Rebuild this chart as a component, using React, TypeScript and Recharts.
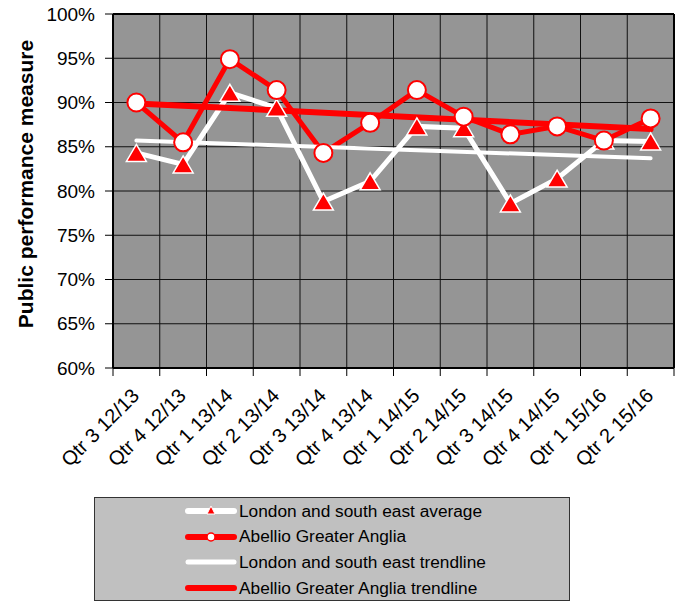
import React from 'react';
import { LineChart, Line, XAxis, YAxis, CartesianGrid, Legend } from 'recharts';

const categories = [
  'Qtr 3 12/13', 'Qtr 4 12/13', 'Qtr 1 13/14', 'Qtr 2 13/14', 'Qtr 3 13/14', 'Qtr 4 13/14',
  'Qtr 1 14/15', 'Qtr 2 14/15', 'Qtr 3 14/15', 'Qtr 4 14/15', 'Qtr 1 15/16', 'Qtr 2 15/16',
];
const londonAverage = [84.3, 83.0, 91.1, 89.4, 78.8, 81.1, 87.3, 87.1, 78.6, 81.4, 85.7, 85.6];
const abellio = [90.0, 85.5, 94.9, 91.4, 84.3, 87.7, 91.4, 88.4, 86.4, 87.3, 85.7, 88.2];
const londonTrend = [85.7, null, null, null, null, null, null, null, null, null, null, 83.7];
const abellioTrend = [89.9, null, null, null, null, null, null, null, null, null, null, 87.0];
const yTicks = [60, 65, 70, 75, 80, 85, 90, 95, 100];

const seriesNames = [
  'London and south east average',
  'Abellio Greater Anglia',
  'London and south east trendline',
  'Abellio Greater Anglia trendline',
];

const data = categories.map((cat, i) => ({
  cat,
  london: londonAverage[i],
  abellio: abellio[i],
  londonTrend: londonTrend[i],
  abellioTrend: abellioTrend[i],
}));

const W = 680;
const H = 601;
const MARGIN = { top: 14, right: 6, left: 0, bottom: 0 };
const Y_AXIS_W = 113;
const PLOT_W = W - MARGIN.left - MARGIN.right - Y_AXIS_W;
const BAND = PLOT_W / categories.length;
const FONT = '"Liberation Sans", Arial, sans-serif';

const TriangleDot = (props: any) => {
  const { cx, cy } = props;
  if (cx == null || cy == null) return null;
  const w = 20;
  const h = 17;
  return (
    <polygon
      points={`${cx},${cy - h / 2} ${cx + w / 2},${cy + h / 2} ${cx - w / 2},${cy + h / 2}`}
      fill="#ff0000"
      stroke="#ffffff"
      strokeWidth={1.5}
    />
  );
};

const XTick = (props: any) => {
  const { x, y, payload, index } = props;
  const top = y - 8;
  const left = x - BAND / 2;
  const isLast = index === categories.length - 1;
  return (
    <g>
      <line x1={left} y1={top} x2={left} y2={top + 8} stroke="#000" strokeWidth={1} />
      {isLast && (
        <line x1={x + BAND / 2} y1={top} x2={x + BAND / 2} y2={top + 8} stroke="#000" strokeWidth={1} />
      )}
      <text
        x={x + 4}
        y={top + 29}
        textAnchor="end"
        transform={`rotate(-45, ${x + 4}, ${top + 29})`}
        fontSize={20}
        fontFamily={FONT}
        fill="#000"
      >
        {payload.value}
      </text>
    </g>
  );
};

const YLabel = () => {
  const cx = 25;
  const cy = 184;
  return (
    <text
      x={cx}
      y={cy}
      textAnchor="middle"
      dominantBaseline="central"
      transform={`rotate(-90, ${cx}, ${cy})`}
      fontSize={21}
      fontWeight="bold"
      fontFamily={FONT}
      fill="#000"
    >
      Public performance measure
    </text>
  );
};

const LegendIcon = ({ i }: { i: number }) => {
  const color = i === 0 || i === 2 ? '#ffffff' : '#ff0000';
  const sw = i === 2 ? 5 : 6;
  return (
    <svg width={52} height={14} style={{ display: 'block' }}>
      <line x1={3} y1={7} x2={49} y2={7} stroke={color} strokeWidth={sw} strokeLinecap="round" />
      {i === 0 && <polygon points="26,2 30,10 22,10" fill="#ff0000" stroke="#ffffff" strokeWidth={1} />}
      {i === 1 && <circle cx={26} cy={7} r={4} fill="#ffffff" stroke="#ff0000" strokeWidth={1.5} />}
    </svg>
  );
};

const renderLegend = () => (
  <div
    style={{
      position: 'relative',
      width: 476,
      height: 104,
      boxSizing: 'border-box',
      background: '#c0c0c0',
      border: '1px solid #333',
    }}
  >
    {seriesNames.map((name, i) => (
      <div
        key={name}
        style={{
          position: 'absolute',
          left: 90,
          top: 13 + i * 25.7 - 10,
          height: 20,
          display: 'flex',
          alignItems: 'center',
          fontFamily: FONT,
          fontSize: 17.3,
          color: '#000',
          whiteSpace: 'nowrap',
        }}
      >
        <LegendIcon i={i} />
        <span style={{ marginLeft: 2 }}>{name}</span>
      </div>
    ))}
  </div>
);

export default function App() {
  return (
    <div style={{ position: 'absolute', left: 0, top: 0, width: W, height: H, background: '#fff' }}>
      <LineChart width={W} height={H} data={data} margin={MARGIN}>
        <CartesianGrid
          fill="#959595"
          fillOpacity={1}
          stroke="#111"
          strokeWidth={1}
          verticalCoordinatesGenerator={({ offset }: any) =>
            Array.from({ length: categories.length + 1 }, (_, k) => offset.left + k * (offset.width / categories.length))
          }
        />
        <CartesianGrid
          fill="none"
          stroke="#000"
          strokeWidth={2}
          horizontalCoordinatesGenerator={({ offset }: any) => [offset.top, offset.top + offset.height]}
          verticalCoordinatesGenerator={({ offset }: any) => [offset.left, offset.left + offset.width]}
        />
        <XAxis
          dataKey="cat"
          height={233}
          interval={0}
          padding={{ left: BAND / 2, right: BAND / 2 }}
          tickLine={false}
          tickSize={8}
          tickMargin={0}
          axisLine={{ stroke: '#000', strokeWidth: 2 }}
          tick={<XTick />}
        />
        <YAxis
          width={Y_AXIS_W}
          domain={[60, 100]}
          ticks={yTicks}
          allowDataOverflow
          tickFormatter={(v: number) => `${v}%`}
          tickSize={8}
          tickMargin={10}
          tick={{ fill: '#000', fontSize: 19, fontFamily: FONT }}
          tickLine={{ stroke: '#000' }}
          axisLine={{ stroke: '#000', strokeWidth: 2 }}
          label={<YLabel />}
        />
        <Line
          dataKey="london"
          name={seriesNames[0]}
          stroke="#ffffff"
          strokeWidth={5}
          dot={<TriangleDot />}
          activeDot={false}
          isAnimationActive={false}
        />
        <Line
          dataKey="abellio"
          name={seriesNames[1]}
          stroke="#ff0000"
          strokeWidth={5}
          dot={{ r: 9, fill: '#ffffff', stroke: '#ff0000', strokeWidth: 2 }}
          activeDot={false}
          isAnimationActive={false}
        />
        <Line
          dataKey="londonTrend"
          name={seriesNames[2]}
          stroke="#ffffff"
          strokeWidth={4}
          strokeLinecap="round"
          connectNulls
          dot={false}
          activeDot={false}
          isAnimationActive={false}
        />
        <Line
          dataKey="abellioTrend"
          name={seriesNames[3]}
          stroke="#ff0000"
          strokeWidth={6}
          strokeLinecap="round"
          connectNulls
          dot={false}
          activeDot={false}
          isAnimationActive={false}
        />
        <Legend
          verticalAlign="middle"
          layout="horizontal"
          content={renderLegend}
          wrapperStyle={{ left: 94, top: 497, width: 476, height: 104 }}
        />
      </LineChart>
    </div>
  );
}
